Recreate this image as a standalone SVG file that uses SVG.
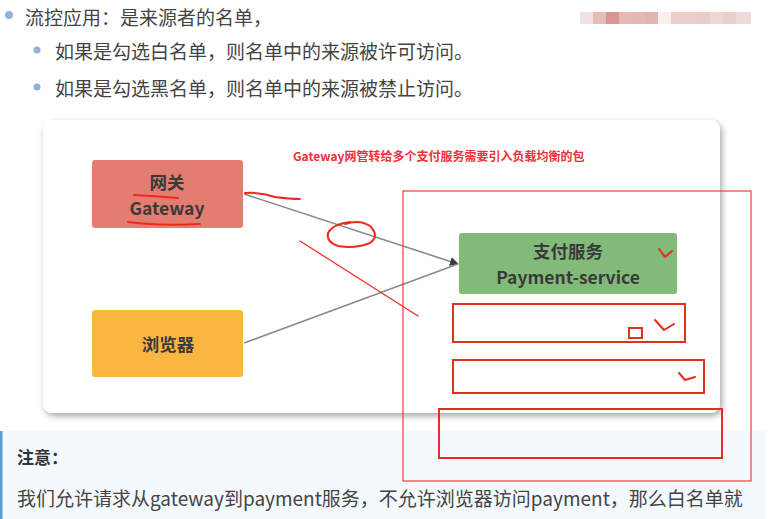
<svg xmlns="http://www.w3.org/2000/svg" width="773" height="519" viewBox="0 0 773 519">
<defs>
<style>
.body{font-family:"Noto Sans CJK SC","Noto Sans",sans-serif;fill:#444;font-size:19px}
.node{font-family:"Noto Sans CJK SC","Noto Sans",sans-serif;fill:#3a3a3a;font-size:17.5px;font-weight:bold;text-anchor:middle}
.ink{fill:none;stroke:#ee2a1e;stroke-linecap:round;stroke-linejoin:round}
.box{fill:none;stroke:#e2321f;stroke-width:2}
.conn{fill:none;stroke:#8a8a8a;stroke-width:1.6}
</style>
<marker id="arr" markerWidth="10" markerHeight="10" refX="8" refY="5" orient="auto" markerUnits="userSpaceOnUse">
<path d="M0,0.5 L9,5 L0,9.5 Z" fill="#3c3c3c"/>
</marker>
<filter id="sh" x="-5%" y="-5%" width="110%" height="115%">
<feDropShadow dx="2" dy="3" stdDeviation="3" flood-color="#000" flood-opacity="0.35"/>
</filter>
</defs>
<rect width="773" height="519" fill="#fff"/>
<g id="pixels">
<rect x="580" y="12" width="13" height="12" fill="#f0e2e0"/>
<rect x="593" y="12" width="13" height="12" fill="#e4bcb8"/>
<rect x="606" y="12" width="13" height="12" fill="#d99791"/>
<rect x="619" y="12" width="13" height="12" fill="#e5bab6"/>
<rect x="632" y="12" width="13" height="12" fill="#e4b8b4"/>
<rect x="645" y="12" width="13" height="12" fill="#dfb6b0"/>
<rect x="658" y="12" width="13" height="12" fill="#f7f0ef"/>
<rect x="671" y="12" width="13" height="12" fill="#eccfcd"/>
<rect x="684" y="12" width="13" height="12" fill="#ebcfcc"/>
<rect x="697" y="12" width="13" height="12" fill="#e9cdca"/>
<rect x="710" y="12" width="13" height="12" fill="#eed6d4"/>
<rect x="723" y="12" width="13" height="12" fill="#e9cfcd"/>
<rect x="736" y="12" width="15" height="12" fill="#eedcda"/>
</g>
<g id="bullets">
<circle cx="9" cy="15" r="4" fill="#8fb2d9"/>
<text class="body" x="25" y="25">流控应用：是来源者的名单，</text>
<circle cx="37" cy="50" r="3.5" fill="#8fb2d9"/>
<text class="body" x="55" y="59">如果是勾选白名单，则名单中的来源被许可访问。</text>
<circle cx="37" cy="87" r="3.5" fill="#8fb2d9"/>
<text class="body" x="55" y="96">如果是勾选黑名单，则名单中的来源被禁止访问。</text>
</g>
<g id="note">
<rect x="0" y="431" width="765" height="88" fill="#f3f9fd"/>
<rect x="0" y="431" width="2.5" height="88" fill="#5b9bd5"/>
<text class="body" x="17" y="464" style="font-weight:bold;font-size:17px;fill:#333">注意：</text>
<text class="body" x="17" y="506">我们允许请求从gateway到payment服务，不允许浏览器访问payment，那么白名单就</text>
</g>
<rect id="card" x="43" y="120" width="677" height="293" rx="9" fill="#fff" filter="url(#sh)"/>
<text id="heading" x="293" y="161" style="font-family:'Noto Sans CJK SC','Noto Sans',sans-serif;font-size:12px;font-weight:bold;fill:#f0303a">Gateway网管转给多个支付服务需要引入负载均衡的包</text>
<g id="connectors">
<line class="conn" x1="244" y1="194" x2="458" y2="264" marker-end="url(#arr)"/>
<line class="conn" x1="244" y1="343" x2="458" y2="264"/>
</g>
<g id="gateway">
<rect x="92" y="160" width="151" height="68" rx="3" fill="#e47d71"/>
<text class="node" x="167" y="189">网关</text>
<text class="node" x="167" y="215">Gateway</text>
</g>
<g id="browser">
<rect x="92" y="310" width="151" height="67" rx="3" fill="#fbb642"/>
<text class="node" x="168" y="351">浏览器</text>
</g>
<g id="payment">
<rect x="459" y="233" width="218" height="61" rx="3" fill="#82ba7a"/>
<text class="node" x="568" y="258">支付服务</text>
<text class="node" x="568" y="284">Payment-service</text>
</g>
<g id="annotations">
<path class="ink" stroke-width="2" d="M134,195 Q155,196 178,198"/>
<path class="ink" stroke-width="2" d="M128,222 Q160,226 200,224"/>
<path class="ink" stroke-width="2" d="M245,193 Q260,192 275,197 Q290,199 300,199"/>
<path class="ink" stroke-width="2" d="M345,224 Q360,219 370,226 Q380,236 370,243 Q355,249 338,246 Q326,242 328,233 Q333,224 350,222"/>
<line class="ink" stroke-width="1.2" x1="300" y1="241" x2="418" y2="316"/>
<rect x="403" y="191" width="348" height="290" fill="none" stroke="#f03c3c" stroke-width="1.2"/>
<rect class="box" x="453" y="304" width="232" height="38"/>
<rect class="box" x="629" y="328" width="13" height="10"/>
<rect class="box" x="453" y="360" width="251" height="33"/>
<rect class="box" x="439" y="409" width="283" height="49"/>
<path class="ink" stroke-width="2" d="M659,249 L665,257 L672,251"/>
<path class="ink" stroke-width="2" d="M655,320 L664,330 L674,324"/>
<path class="ink" stroke-width="2" d="M679,373 L685,380 L695,377"/>
</g>
</svg>
